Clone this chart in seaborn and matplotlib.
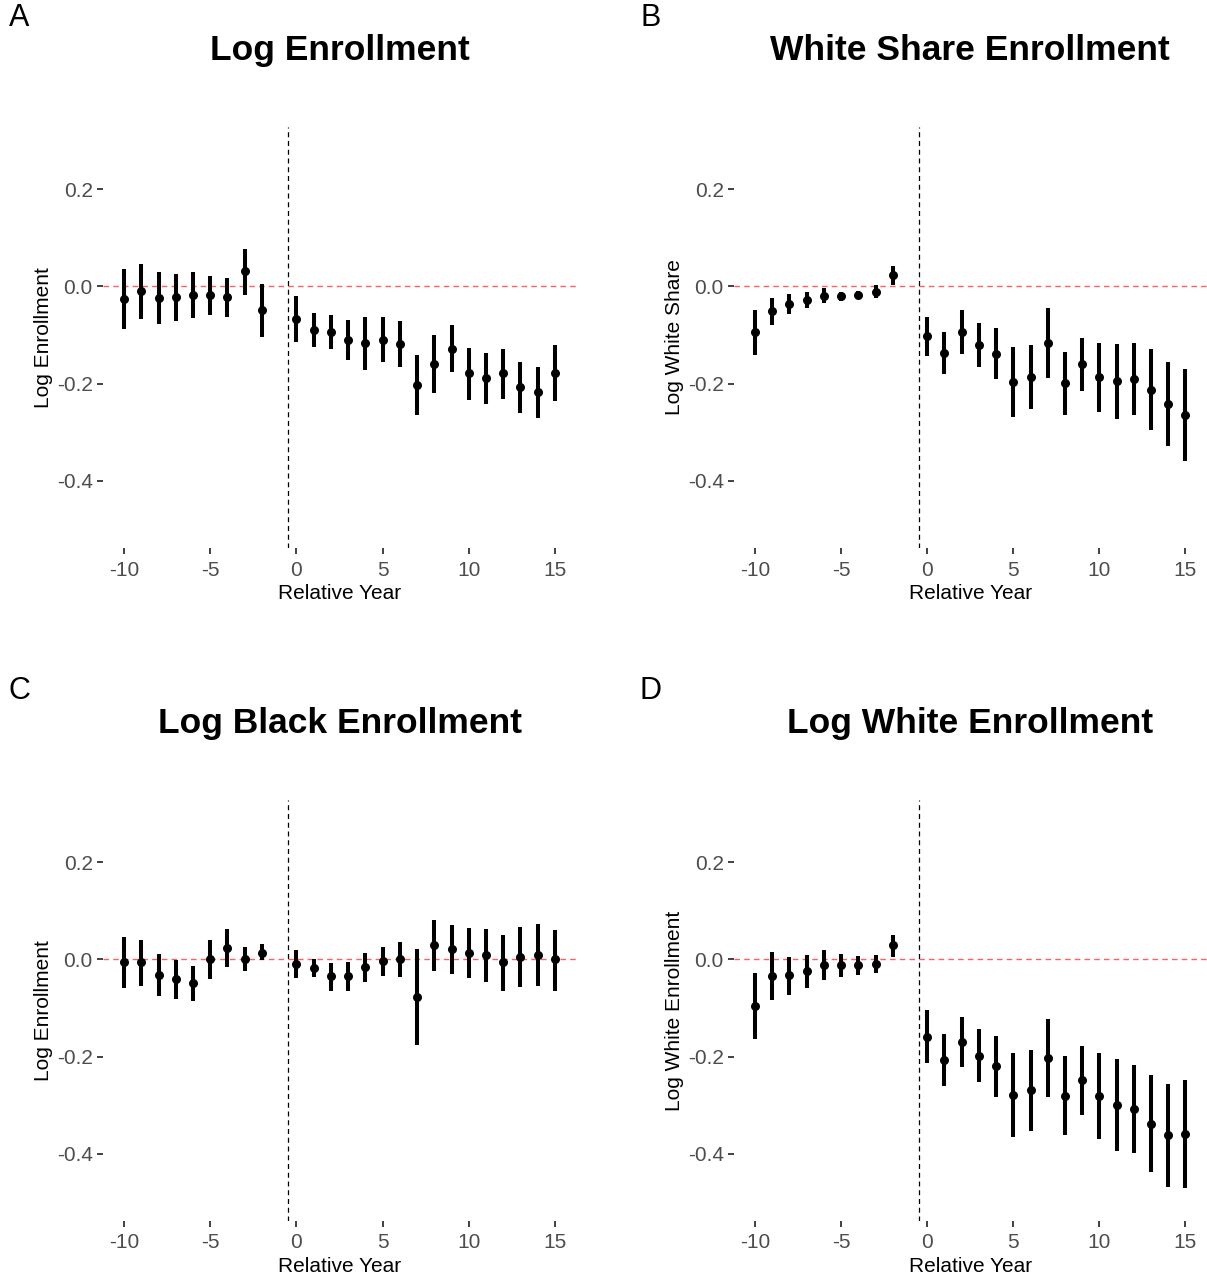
import numpy as np
import pandas as pd
import matplotlib
matplotlib.use("Agg")
import matplotlib.pyplot as plt
import seaborn as sns

# relative years (year -1 is the omitted reference)
years = [-10, -9, -8, -7, -6, -5, -4, -3, -2, 0, 1, 2, 3, 4, 5, 6, 7, 8, 9, 10, 11, 12, 13, 14, 15]

# A: log enrollment
est_a = [-0.025, -0.009, -0.024, -0.022, -0.017, -0.017, -0.022, 0.031, -0.048,
         -0.066, -0.089, -0.093, -0.110, -0.117, -0.110, -0.118, -0.202, -0.159,
         -0.128, -0.178, -0.189, -0.178, -0.207, -0.218, -0.177]
hi_a = [0.036, 0.046, 0.029, 0.026, 0.030, 0.022, 0.017, 0.078, 0.006,
        -0.019, -0.054, -0.058, -0.069, -0.063, -0.063, -0.072, -0.141, -0.099,
        -0.079, -0.126, -0.136, -0.129, -0.155, -0.165, -0.121]
lo_a = [-0.088, -0.067, -0.078, -0.071, -0.065, -0.058, -0.062, -0.018, -0.103,
        -0.115, -0.125, -0.129, -0.151, -0.172, -0.156, -0.166, -0.264, -0.219,
        -0.176, -0.233, -0.242, -0.231, -0.261, -0.271, -0.235]

# B: white share
est_b = [-0.094, -0.050, -0.036, -0.027, -0.019, -0.019, -0.017, -0.011, 0.023,
         -0.102, -0.137, -0.093, -0.120, -0.138, -0.196, -0.186, -0.116, -0.198,
         -0.160, -0.187, -0.195, -0.190, -0.212, -0.242, -0.264]
hi_b = [-0.048, -0.023, -0.016, -0.011, -0.003, -0.011, -0.009, 0.003, 0.043,
        -0.062, -0.093, -0.049, -0.076, -0.086, -0.124, -0.120, -0.045, -0.134,
        -0.106, -0.116, -0.118, -0.117, -0.129, -0.156, -0.170]
lo_b = [-0.142, -0.079, -0.056, -0.044, -0.034, -0.029, -0.026, -0.023, 0.003,
        -0.144, -0.180, -0.139, -0.165, -0.191, -0.269, -0.252, -0.189, -0.264,
        -0.215, -0.258, -0.272, -0.265, -0.295, -0.329, -0.359]

# C: log black enrollment
est_c = [-0.006, -0.006, -0.031, -0.041, -0.049, 0.000, 0.023, 0.001, 0.014,
         -0.009, -0.018, -0.035, -0.034, -0.016, -0.003, 0.000, -0.077, 0.030,
         0.021, 0.014, 0.010, -0.005, 0.006, 0.010, 0.000]
hi_c = [0.047, 0.040, 0.012, -0.001, -0.014, 0.041, 0.062, 0.026, 0.032,
        0.020, 0.001, -0.007, -0.005, 0.014, 0.026, 0.036, 0.022, 0.082,
        0.070, 0.065, 0.063, 0.051, 0.067, 0.073, 0.061]
lo_c = [-0.059, -0.054, -0.075, -0.081, -0.086, -0.041, -0.015, -0.024, -0.002,
        -0.038, -0.037, -0.065, -0.064, -0.046, -0.034, -0.036, -0.176, -0.024,
        -0.030, -0.039, -0.046, -0.065, -0.056, -0.055, -0.064]

# D: log white enrollment
est_d = [-0.095, -0.034, -0.033, -0.024, -0.012, -0.012, -0.012, -0.009, 0.029,
         -0.159, -0.207, -0.170, -0.198, -0.219, -0.279, -0.269, -0.202, -0.280,
         -0.248, -0.280, -0.299, -0.307, -0.338, -0.362, -0.359]
hi_d = [-0.027, 0.015, 0.006, 0.010, 0.019, 0.012, 0.008, 0.009, 0.051,
        -0.105, -0.154, -0.118, -0.144, -0.157, -0.192, -0.187, -0.122, -0.198,
        -0.178, -0.193, -0.205, -0.217, -0.238, -0.257, -0.248]
lo_d = [-0.163, -0.084, -0.073, -0.059, -0.043, -0.036, -0.032, -0.028, 0.005,
        -0.212, -0.260, -0.222, -0.252, -0.282, -0.365, -0.352, -0.283, -0.362,
        -0.320, -0.369, -0.393, -0.398, -0.438, -0.468, -0.470]

panels = [
    ("A", "Log Enrollment", "Log Enrollment", est_a, lo_a, hi_a),
    ("B", "White Share Enrollment", "Log White Share", est_b, lo_b, hi_b),
    ("C", "Log Black Enrollment", "Log Enrollment", est_c, lo_c, hi_c),
    ("D", "Log White Enrollment", "Log White Enrollment", est_d, lo_d, hi_d),
]

sns.set_theme(style="white")
plt.rcParams["font.family"] = ["Liberation Sans", "DejaVu Sans"]
plt.rcParams["axes.unicode_minus"] = False

fig = plt.figure(figsize=(12.07, 12.82), dpi=100)
W, H = 1207, 1282
# axes boxes in pixels: left, top, right, bottom
boxes = [(102.5, 127, 576.5, 548), (733.5, 127, 1207, 548),
         (102.5, 800, 576.5, 1221), (733.5, 800, 1207, 1221)]

for (tag, title, ylab, est, lo, hi), (l, t, r, b) in zip(panels, boxes):
    ax = fig.add_axes([l / W, 1 - b / H, (r - l) / W, (b - t) / H])
    df = pd.DataFrame({"year": years, "est": est, "lo": lo, "hi": hi})
    ax.axhline(0, color="#ff5f5f", lw=1.0, ls=(0, (4, 3)), zorder=1)
    ax.axvline(-0.5, color="black", lw=0.9, ls=(0, (4, 3)), zorder=1)
    ax.vlines(df["year"], df["lo"], df["hi"], color="black", lw=2.9, zorder=2)
    sns.scatterplot(data=df, x="year", y="est", ax=ax, color="black", s=42,
                    edgecolor="black", linewidth=0, zorder=3)
    ax.set_xlim(-11.25, 16.25)
    ax.set_ylim(-0.538, 0.328)
    ax.set_xticks([-10, -5, 0, 5, 10, 15])
    ax.set_xticklabels(["-10", "-5", "0", "5", "10", "15"])
    ax.set_yticks([0.2, 0.0, -0.2, -0.4])
    ax.set_yticklabels(["0.2", "0.0", "-0.2", "-0.4"])
    ax.tick_params(axis="both", length=4, width=1.3, color="#333333",
                   labelcolor="#4d4d4d", labelsize=15, direction="out",
                   bottom=True, left=True)
    ax.tick_params(axis="x", pad=5)
    ax.tick_params(axis="y", pad=3)
    ax.set_xlabel("Relative Year", fontsize=15, color="black", labelpad=3)
    ax.set_ylabel(ylab, fontsize=15, color="black", labelpad=3)
    ax.set_title(title, fontsize=25.5, fontweight="bold", color="black", pad=0,
                 y=1 + 67 / (b - t))
    sns.despine(ax=ax, left=True, bottom=True)
    ax.grid(False)
    fig.text((l - 83) / W, 1 - (t - 109) / H, tag, fontsize=22, color="black",
             ha="center", va="center")

fig.savefig("out.png", dpi=100)
